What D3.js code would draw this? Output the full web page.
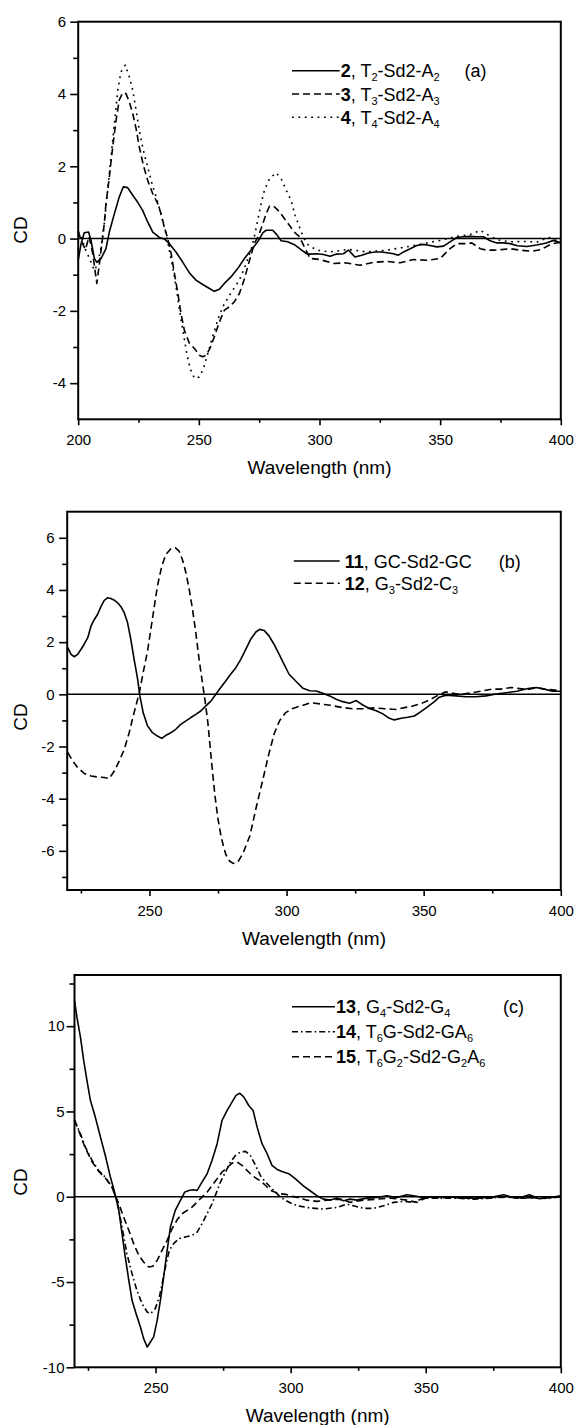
<!DOCTYPE html>
<html>
<head>
<meta charset="utf-8">
<script src="https://cdn.jsdelivr.net/npm/d3@7"></script>
<style>
body { margin: 0; background: #fff; }
svg { display: block; font-family: "Liberation Sans", Arial, sans-serif; }
</style>
</head>
<body>
<svg id="chart" width="574" height="1425"></svg>
<script>
// ---- panel (a) : wavelength (nm), CD ----
var s2 = [[200,-0.6],[201.2,-0.14],[202.5,0.16],[204.3,0.18],[205.3,-0.05],[206.7,-0.55],[207.7,-0.66],[209.5,-0.55],[211.5,-0.28],[212.9,0.18],[215,0.69],[217,1.15],[218.7,1.43],[220.5,1.41],[222.6,1.2],[224.6,1.01],[226.7,0.78],[228.8,0.46],[230.9,0.18],[233.6,0.03],[235.7,-0.01],[237.8,-0.14],[240.5,-0.37],[243.3,-0.65],[246.1,-0.95],[248.8,-1.15],[251.6,-1.27],[254.4,-1.38],[256.4,-1.46],[258.5,-1.4],[260.6,-1.24],[263.3,-1.06],[266.1,-0.83],[268.9,-0.55],[271.6,-0.32],[274.4,-0.09],[276.5,0.16],[277.9,0.23],[280.6,0.23],[282.3,0.11],[284.1,-0.06],[286.8,-0.09],[289.6,-0.17],[292.6,-0.32],[294.7,-0.42],[296.1,-0.43],[298.9,-0.42],[301.6,-0.44],[304.4,-0.49],[307.1,-0.43],[309.9,-0.42],[312,-0.32],[314.7,-0.51],[317.5,-0.46],[320.3,-0.4],[323,-0.37],[325.8,-0.37],[328.6,-0.4],[330.6,-0.42],[332.7,-0.46],[334.8,-0.37],[337.6,-0.28],[340.3,-0.19],[343.1,-0.16],[345.8,-0.19],[348.6,-0.23],[351.4,-0.21],[354.1,-0.09],[356.9,0.03],[359.7,0.05],[362.4,0.06],[365.2,0.05],[367.9,0.05],[370.7,-0.06],[373.5,-0.12],[376.2,-0.12],[379,-0.14],[382,-0.2],[386,-0.22],[390,-0.18],[394,-0.12],[397,-0.05],[400,-0.12]];
var s3 = [[200,0.2],[201.5,-0.1],[203,-0.3],[204.5,0.05],[206,-0.4],[207.7,-1.24],[208.8,-0.69],[209.9,-0.09],[210.8,0.41],[211.5,0.96],[212.9,1.7],[214.3,2.54],[215.7,3.27],[217,3.83],[218.4,4.03],[219.8,4.01],[221.2,3.78],[222.6,3.46],[224,3.04],[225.3,2.54],[227,2.03],[228.8,1.61],[230.9,1.24],[233,0.96],[234.3,0.69],[235.7,0.32],[237.1,0],[238.5,-0.41],[239.9,-0.97],[241.3,-1.52],[242.6,-2.07],[244,-2.54],[246.1,-2.9],[248.2,-3.04],[250.2,-3.23],[251.6,-3.27],[253,-3.23],[254.6,-3.04],[256.4,-2.72],[258.5,-2.31],[260.6,-1.98],[262.6,-1.89],[264.7,-1.75],[266.8,-1.52],[268.9,-1.11],[271,-0.6],[273,-0.14],[274.8,0.09],[276.5,0.41],[277.9,0.69],[279.3,0.9],[281.3,0.88],[283.4,0.74],[285.5,0.55],[287.5,0.37],[289.6,0.18],[291.7,0.05],[293.5,-0.2],[296.1,-0.55],[300.2,-0.58],[305.8,-0.69],[310.6,-0.67],[316.8,-0.74],[322.3,-0.66],[327.9,-0.63],[333.4,-0.67],[338.9,-0.58],[344.5,-0.6],[350,-0.55],[354.1,-0.28],[356.9,-0.14],[360.4,-0.14],[363.1,-0.12],[366.6,-0.28],[369.3,-0.32],[372.1,-0.32],[376.2,-0.3],[379,-0.28],[383,-0.32],[388,-0.35],[392,-0.3],[396,-0.15],[400,-0.1]];
var s4 = [[200,0.2],[201.5,0],[203,-0.3],[205,-0.6],[206.7,-0.88],[208.1,-0.7],[209.5,-0.23],[210.8,0.41],[212.2,1.34],[213.6,2.26],[215,3.18],[216.4,4.1],[217.7,4.61],[219.5,4.8],[221.2,4.47],[222.6,4.1],[224,3.55],[225.3,3],[227,2.44],[228.8,1.98],[230.6,1.52],[232.3,1.15],[233.9,0.78],[235.3,0.41],[236.7,0.05],[238,-0.41],[239.4,-0.88],[240.8,-1.43],[242.2,-2.07],[243.6,-2.63],[245,-3.18],[246.4,-3.6],[248.2,-3.87],[250.2,-3.83],[251.9,-3.6],[253.7,-3.18],[255.7,-2.72],[257.8,-2.26],[259.9,-1.89],[261.9,-1.66],[264,-1.43],[266.8,-1.15],[269.6,-0.69],[271.6,-0.32],[273,0.05],[274.4,0.51],[275.8,0.97],[277.2,1.34],[279.3,1.66],[282,1.82],[284.1,1.66],[286.2,1.34],[288.2,1.06],[289.9,0.64],[291.9,0.28],[293.3,0.04],[295.4,-0.18],[298.9,-0.32],[304.4,-0.37],[312,-0.3],[319.6,-0.37],[327.9,-0.32],[336.2,-0.23],[344.5,-0.12],[350,-0.05],[356.9,0.06],[362.4,0.11],[366.6,0.23],[369.3,0.12],[373.5,-0.03],[379,-0.09],[385,-0.08],[390,-0.1],[395,0.03],[400,-0.1]];

// ---- panel (b) ----
var s11 = [[220.2,1.79],[221.4,1.53],[222.6,1.44],[223.8,1.53],[225,1.72],[226.2,1.92],[227.5,2.17],[228.7,2.62],[229.9,2.87],[231.1,3.07],[232.3,3.36],[233.5,3.6],[234.7,3.7],[235.9,3.67],[237.2,3.61],[238.4,3.51],[239.6,3.36],[240.8,3.13],[242,2.75],[243.2,2.11],[244.4,1.34],[245.7,0.57],[246.5,-0.06],[247.7,-0.7],[249.3,-1.21],[251.1,-1.47],[252.9,-1.6],[254.5,-1.69],[256,-1.57],[257.8,-1.47],[259.6,-1.34],[261.4,-1.15],[263.3,-1.02],[265.1,-0.89],[266.9,-0.77],[268.7,-0.64],[270.5,-0.45],[272.4,-0.26],[274.2,0],[276,0.26],[277.8,0.51],[279.6,0.77],[281.5,1.02],[283.3,1.34],[285.1,1.72],[286.9,2.11],[288.8,2.39],[290.2,2.49],[291.8,2.45],[293.6,2.24],[295.4,1.92],[297.3,1.53],[299.1,1.15],[300.9,0.77],[303.5,0.49],[306,0.23],[308.4,0.14],[310.8,0.13],[313.2,0.04],[315.7,-0.06],[318.1,-0.19],[320.5,-0.28],[323,-0.34],[325.4,-0.24],[327.8,-0.41],[330.2,-0.54],[332.7,-0.63],[335.1,-0.75],[337.5,-0.92],[339.3,-0.98],[341.8,-0.92],[344.2,-0.88],[346.6,-0.83],[349,-0.66],[351.5,-0.47],[353.9,-0.28],[355.7,-0.11],[358.2,-0.03],[361.8,-0.06],[365.4,-0.09],[369.1,-0.09],[372.7,-0.06],[376.4,0.01],[380,0.06],[384,0.12],[388,0.22],[391,0.26],[394,0.2],[397,0.12],[400,0.12]];
var s12 = [[220.2,-2.23],[222,-2.55],[223.8,-2.81],[226.2,-3.03],[228.7,-3.13],[231.1,-3.17],[233.5,-3.19],[235.3,-3.23],[237.2,-2.94],[239,-2.55],[240.8,-2.11],[242.6,-1.47],[244.4,-0.7],[246.3,0.06],[247.7,0.83],[249.3,1.66],[250.5,2.49],[251.7,3.32],[252.9,4.15],[254.5,4.92],[256,5.36],[257.8,5.58],[259.4,5.62],[260.8,5.49],[262,5.17],[263.3,4.66],[264.5,4.02],[265.7,3.26],[266.9,2.36],[268.1,1.34],[269.3,0.45],[270.3,-0.26],[271.3,-1.09],[272.1,-1.98],[272.9,-2.87],[273.9,-3.9],[275,-4.79],[276.2,-5.5],[277.8,-6.13],[279.2,-6.39],[280.5,-6.48],[282.3,-6.42],[284.2,-6.07],[286.6,-5.43],[289,-4.3],[291.5,-3.2],[293.5,-2.3],[295.5,-1.5],[297.5,-1],[299.7,-0.7],[302,-0.55],[305,-0.45],[309,-0.32],[313,-0.38],[316,-0.42],[320,-0.5],[324,-0.55],[328,-0.55],[332,-0.52],[336,-0.55],[340,-0.58],[343,-0.51],[346,-0.45],[349,-0.36],[352,-0.22],[355,-0.05],[358,0.1],[360,0.05],[363,0],[367,0.05],[371,0.12],[375,0.2],[378,0.2],[382,0.26],[385,0.22],[388,0.18],[391,0.26],[394,0.2],[397,0.17],[400,0.13]];

// ---- panel (c) ----
var s13 = [[220,11.5],[220.9,10.53],[222.2,9.36],[223.4,7.99],[224.6,6.82],[225.9,5.64],[227.7,4.67],[229.6,3.5],[231.4,2.42],[233.3,1.15],[234.5,0.47],[235.4,-0.12],[236.4,-0.8],[237.6,-2.17],[238.8,-3.54],[240.1,-4.9],[241.3,-6.07],[242.8,-6.86],[244.4,-7.64],[245.6,-8.32],[246.9,-8.81],[248.1,-8.52],[249.3,-8.22],[250.6,-7.25],[251.8,-6.07],[253,-4.71],[254.3,-3.14],[255.5,-1.78],[257.3,-0.8],[259.2,-0.21],[260.8,0.27],[262.3,0.37],[264.1,0.41],[265.4,0.37],[267.2,0.86],[269.1,1.35],[270.9,2.13],[272.8,3.11],[274.6,4.47],[276.5,5.06],[278.3,5.55],[279.8,5.94],[281.2,6.07],[282.7,5.84],[284.5,5.35],[286.1,5.06],[287.6,4.08],[289.4,3.11],[291.3,2.52],[293.1,1.84],[295,1.6],[296.8,1.48],[299.3,1.35],[301.8,1.05],[304.7,0.64],[307.2,0.35],[309.7,0.06],[312.1,-0.14],[314.6,-0.2],[317.1,-0.08],[319.6,-0.23],[322,-0.14],[324.5,-0.2],[328.2,-0.08],[331.9,-0.04],[335.6,0.06],[339.3,-0.04],[343,0.12],[345.5,0.06],[349.2,-0.04],[355.4,0],[361.5,-0.04],[367.7,-0.08],[373.9,-0.04],[378.8,0.12],[381.3,0],[385,-0.05],[388.4,0.12],[392,-0.12],[396,-0.05],[400,0.05]];
var s14 = [[220,4.5],[222.2,3.69],[224,2.91],[226.5,2.13],[228.9,1.54],[231.4,1.15],[233.9,0.57],[235.7,-0.21],[237.6,-1.78],[239.4,-3.34],[241.3,-4.51],[243.1,-5.49],[245,-6.27],[246.9,-6.76],[248.1,-6.86],[249.9,-6.56],[251.4,-5.88],[252.7,-4.9],[253.9,-3.93],[255.1,-3.14],[256.7,-2.75],[258.6,-2.46],[261,-2.36],[263.5,-2.27],[265.4,-2.07],[267.2,-1.58],[269.1,-0.99],[270.9,-0.41],[272.4,0.18],[274,0.86],[275.9,1.45],[277.7,2.03],[279.6,2.42],[281.4,2.62],[283.3,2.66],[285.1,2.42],[287,1.84],[288.8,1.25],[290.7,0.86],[292.5,0.57],[294.4,0.27],[296.2,-0.02],[298.1,-0.21],[300.6,-0.41],[303.3,-0.55],[307.2,-0.66],[312.1,-0.72],[317.1,-0.63],[320.8,-0.43],[323.3,-0.53],[327,-0.68],[330.7,-0.68],[334.4,-0.53],[338.1,-0.33],[341.8,-0.27],[345.5,-0.33],[349.2,-0.08],[355.4,-0.08],[361.5,-0.08],[367.7,-0.14],[373.9,-0.08],[378.8,0],[384,-0.08],[390,-0.05],[395,-0.1],[400,0]];
var s15 = [[220,4.5],[222.2,3.6],[224,2.85],[226.5,2.05],[228.9,1.5],[231.4,1.1],[233.9,0.55],[235,0.1],[236.4,-0.41],[238.2,-1.19],[240.1,-1.97],[241.9,-2.75],[243.8,-3.44],[245.6,-3.83],[247.5,-4.12],[249,-4.08],[250.6,-3.73],[252.4,-3.14],[254.3,-2.56],[256.1,-1.88],[258,-1.35],[259.8,-1],[261.7,-0.8],[263.5,-0.61],[265.4,-0.31],[267.2,-0.02],[269.1,0.27],[270.9,0.66],[272.8,1.05],[274.6,1.45],[276.5,1.7],[278.3,1.97],[280.2,2.03],[282,1.84],[283.9,1.54],[285.7,1.25],[287.6,1.05],[289.4,0.86],[291.3,0.57],[293.1,0.33],[295.6,0.18],[298.1,0.14],[300.6,0.02],[303.3,-0.06],[306,-0.2],[309.7,-0.27],[313.4,-0.2],[318.3,-0.14],[322,-0.33],[327,-0.2],[332,-0.14],[337,-0.08],[343,-0.2],[346.7,-0.33],[350,-0.08],[355,-0.05],[362,-0.05],[368,-0.1],[374,-0.05],[380,-0.02],[386,-0.08],[392,-0.05],[400,0]];

// tick values
var xMajorA = [200, 250, 300, 350, 400], xMinorA = [225, 275, 325, 375];
var xMajorBC = [250, 300, 350, 400], xMinorBC = [225, 275, 325, 375];
var yMajorA = [-4, -2, 0, 2, 4, 6], yMinorA = [-3, -1, 1, 3, 5];
var yMajorB = [-6, -4, -2, 0, 2, 4, 6], yMinorB = [-7, -5, -3, -1, 1, 3, 5];
var yMajorC = [-10, -5, 0, 5, 10], yMinorC = [-7.5, -2.5, 2.5, 7.5, 12.5];

// legend entries: bold number, name ("_x" = subscript)
var legNumA = ["2", "3", "4"], legNameA = ["T_2-Sd2-A_2", "T_3-Sd2-A_3", "T_4-Sd2-A_4"];
var legNumB = ["11", "12"], legNameB = ["GC-Sd2-GC", "G_3-Sd2-C_3"];
var legNumC = ["13", "14", "15"], legNameC = ["G_4-Sd2-G_4", "T_6G-Sd2-GA_6", "T_6G_2-Sd2-G_2A_6"];

var SOLID = null, DASH = "7,4", DOT = "1.8,4.6", DASHDOT = "6,3,1.6,3";

var svg = d3.select("#chart");

function drawPanel(p) {
  var x = d3.scaleLinear().domain(p.xDomain).range([p.left, p.right]);
  var y = d3.scaleLinear().domain(p.yDomain).range([p.bottom, p.top]);
  var g = svg.append("g");
  var fmt = function(d) { return String(d); };

  // x axis: minor then major ticks, pointing down
  g.append("g").attr("transform", "translate(0," + p.bottom + ")")
    .call(d3.axisBottom(x).tickValues(p.xMinor).tickSize(3.5).tickFormat(""));
  var xa = g.append("g").attr("transform", "translate(0," + p.bottom + ")")
    .call(d3.axisBottom(x).tickValues(p.xMajor).tickSize(6).tickFormat(fmt));
  xa.selectAll("text").attr("y", 25.5).attr("dy", 0);

  // y axis
  g.append("g").attr("transform", "translate(" + p.left + ",0)")
    .call(d3.axisLeft(y).tickValues(p.yMinor).tickSize(5).tickFormat(""));
  g.append("g").attr("transform", "translate(" + p.left + ",0)")
    .call(d3.axisLeft(y).tickValues(p.yMajor).tickSize(8).tickPadding(p.labelPad).tickFormat(fmt));

  g.selectAll(".domain").remove();
  g.selectAll(".tick line").attr("stroke", "#000").attr("stroke-width", 1.6);
  g.selectAll(".tick text").attr("font-size", 15).attr("fill", "#000")
    .attr("font-family", "'Liberation Sans', Arial, sans-serif");

  // zero line
  g.append("line").attr("x1", x.range()[0]).attr("x2", x.range()[1])
    .attr("y1", y(0)).attr("y2", y(0)).attr("stroke", "#000").attr("stroke-width", 1.5);

  // curves
  var line = d3.line().x(function(d) { return x(d[0]); }).y(function(d) { return y(d[1]); });
  p.series.forEach(function(s) {
    g.append("path").datum(s.data).attr("d", line)
      .attr("fill", "none").attr("stroke", "#000").attr("stroke-width", 1.6)
      .attr("stroke-linejoin", "round")
      .attr("stroke-dasharray", s.dash);
  });

  // frame
  g.append("rect").attr("x", p.left).attr("y", p.top)
    .attr("width", p.right - p.left).attr("height", p.bottom - p.top)
    .attr("fill", "none").attr("stroke", "#000").attr("stroke-width", 2);

  // axis titles
  g.append("text").attr("x", (p.left + p.right) / 2).attr("y", p.bottom + 55)
    .attr("text-anchor", "middle").attr("font-size", 19).text("Wavelength (nm)");
  g.append("text").attr("transform", "translate(27," + p.cdY + ") rotate(-90)")
    .attr("text-anchor", "middle").attr("font-size", 19).text("CD");

  // legend
  p.series.forEach(function(s, i) {
    var ly = p.legY + i * p.legGap;
    g.append("line").attr("x1", p.legX).attr("x2", p.legX + p.legLen)
      .attr("y1", ly).attr("y2", ly).attr("stroke", "#000").attr("stroke-width", 1.6)
      .attr("stroke-dasharray", s.dash);
    var t = g.append("text").attr("x", p.legX + p.legLen + p.legTextGap).attr("y", ly + 6.5)
      .attr("font-size", 18);
    t.append("tspan").attr("font-weight", "bold").text(p.nums[i]);
    t.append("tspan").text(", ");
    var sub = false;
    p.names[i].split(/(_\w)/).forEach(function(part) {
      if (!part) return;
      if (part[0] === "_") {
        t.append("tspan").attr("font-size", 11).attr("dy", 4).text(part[1]);
        sub = true;
      } else {
        t.append("tspan").attr("dy", sub ? -4 : 0).text(part);
        sub = false;
      }
    });
  });
  g.append("text").attr("x", p.tagX).attr("y", p.legY + 6.5).attr("font-size", 18).text(p.tag);
}

drawPanel({
  left: 78.2, right: 560.8, top: 21.7, bottom: 419.3,
  xDomain: [200, 400], yDomain: [-5, 6],
  xMajor: xMajorA, xMinor: xMinorA, yMajor: yMajorA, yMinor: yMinorA, labelPad: 4,
  cdY: 230,
  series: [{data: s2, dash: SOLID}, {data: s3, dash: DASH}, {data: s4, dash: DOT}],
  nums: legNumA, names: legNameA,
  legX: 292, legLen: 47.7, legTextGap: 1, legY: 70.7, legGap: 23.3,
  tag: "(a)", tagX: 464.6
});

drawPanel({
  left: 67.2, right: 560.8, top: 511.7, bottom: 890,
  xDomain: [220, 400], yDomain: [-7.5, 7],
  xMajor: xMajorBC, xMinor: xMinorBC, yMajor: yMajorB, yMinor: yMinorB, labelPad: 4.5,
  cdY: 717,
  series: [{data: s11, dash: SOLID}, {data: s12, dash: DASH}],
  nums: legNumB, names: legNameB,
  legX: 293.8, legLen: 45.9, legTextGap: 5, legY: 561, legGap: 22.3,
  tag: "(b)", tagX: 498.7
});

drawPanel({
  left: 74.5, right: 560.8, top: 975, bottom: 1367.3,
  xDomain: [220, 400], yDomain: [-10, 13],
  xMajor: xMajorBC, xMinor: xMinorBC, yMajor: yMajorC, yMinor: yMinorC, labelPad: 2,
  cdY: 1182,
  series: [{data: s13, dash: SOLID}, {data: s14, dash: DASHDOT}, {data: s15, dash: DASH}],
  nums: legNumC, names: legNameC,
  legX: 292, legLen: 43, legTextGap: 1, legY: 1006.7, legGap: 25,
  tag: "(c)", tagX: 503
});
</script>
</body>
</html>
